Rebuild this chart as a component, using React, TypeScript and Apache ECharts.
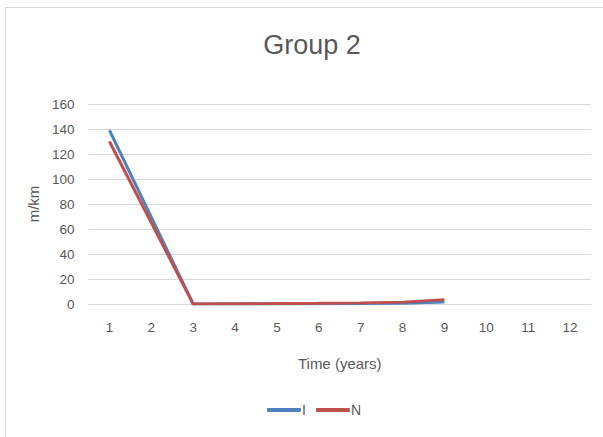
import React, { useEffect, useRef } from "react";
import * as echarts from "echarts";

const categories = ["1", "2", "3", "4", "5", "6", "7", "8", "9", "10", "11", "12"];
const seriesI = [139, 69.5, 0, 0, 0.1, 0.2, 0.3, 0.6, 1.5];
const seriesN = [130, 65, 0, 0.2, 0.4, 0.6, 0.9, 1.5, 3.5];
const yTicks = { min: 0, max: 160, interval: 20 };

const FONT = "'Liberation Sans', 'Noto Sans', sans-serif";

export default function App() {
  const ref = useRef<HTMLDivElement>(null);
  useEffect(() => {
    if (!ref.current) return;
    const chart = echarts.init(ref.current, undefined, { renderer: "svg" });
    chart.setOption({
      animation: false,
      backgroundColor: "#ffffff",
      textStyle: { fontFamily: FONT, color: "#595959" },
      title: {
        text: "Group 2",
        left: 307,
        top: 26,
        textAlign: "center",
        textStyle: { fontFamily: FONT, fontSize: 27, fontWeight: "normal", color: "#595959" },
      },
      graphic: [
        {
          type: "rect",
          shape: { x: 5.5, y: 7.5, width: 620, height: 450 },
          style: { fill: "none", stroke: "#d9d9d9", lineWidth: 1 },
          silent: true,
        },
      ],
      grid: { left: 88.5, right: 12, top: 104, bottom: 133, containLabel: false },
      xAxis: {
        type: "category",
        data: categories,
        boundaryGap: true,
        name: "Time (years)",
        nameLocation: "middle",
        nameGap: 52,
        nameTextStyle: { fontFamily: FONT, fontSize: 15, color: "#595959" },
        axisLine: { lineStyle: { color: "#d9d9d9", width: 1 } },
        axisTick: { show: false },
        axisLabel: { fontFamily: FONT, fontSize: 13.5, color: "#595959", margin: 16 },
      },
      yAxis: {
        type: "value",
        min: yTicks.min,
        max: yTicks.max,
        interval: yTicks.interval,
        name: "m/km",
        nameLocation: "middle",
        nameGap: 45,
        nameRotate: 90,
        nameTextStyle: { fontFamily: FONT, fontSize: 15, color: "#595959" },
        axisLine: { show: false },
        axisTick: { show: false },
        axisLabel: { fontFamily: FONT, fontSize: 13.5, color: "#595959", margin: 14 },
        splitLine: { lineStyle: { color: "#d9d9d9", width: 1 } },
      },
      legend: {
        left: 262,
        top: 398,
        itemWidth: 34,
        itemHeight: 4,
        itemGap: 10,
        icon: "roundRect",
        textStyle: { fontFamily: FONT, fontSize: 14, color: "#595959", padding: [0, 0, 0, -4] },
        data: ["I", "N"],
      },
      series: [
        {
          name: "I",
          type: "line",
          data: seriesI,
          showSymbol: false,
          symbol: "none",
          lineStyle: { color: "#4F81BD", width: 3 },
          itemStyle: { color: "#4F81BD" },
        },
        {
          name: "N",
          type: "line",
          data: seriesN,
          showSymbol: false,
          symbol: "none",
          lineStyle: { color: "#C0504D", width: 3 },
          itemStyle: { color: "#C0504D" },
        },
      ],
    });
    return () => chart.dispose();
  }, []);
  return <div ref={ref} style={{ width: 603, height: 437, position: "absolute", left: 0, top: 0 }} />;
}
